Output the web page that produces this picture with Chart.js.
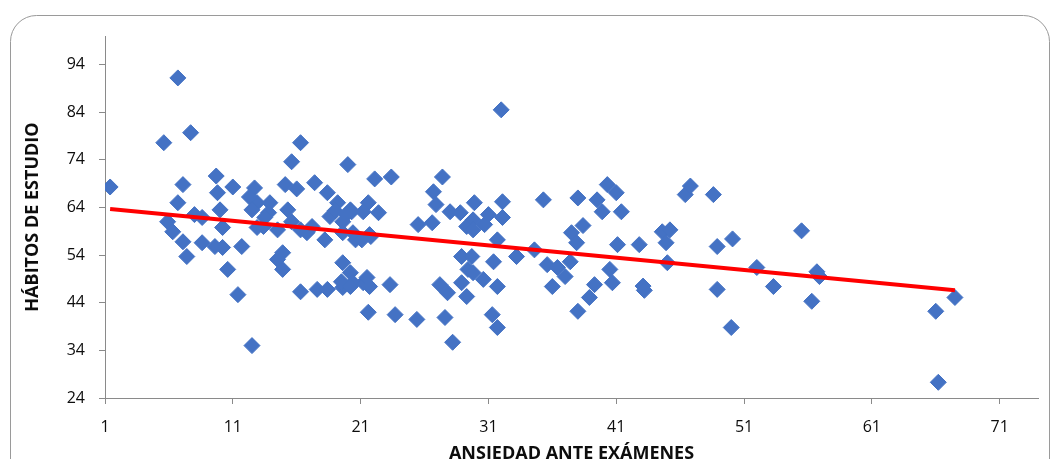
<!DOCTYPE html>
<html>
<head>
<meta charset="utf-8">
<script src="https://cdn.jsdelivr.net/npm/chart.js@4"></script>
<style>
  html, body { margin: 0; padding: 0; background: #fff; }
</style>
</head>
<body>
<canvas id="dispersion" width="1051" height="459"></canvas>
<script>
// valores
const ansiedad = [
  1.4, 5.6, 6.7, 7.7, 7.1, 9.7, 11.0, 9.8, 6.7, 10.0,
  8.0, 8.6, 5.9, 6.3, 10.2, 7.1, 8.6, 9.6, 10.2, 11.7,
  7.4, 10.6, 11.4, 12.5, 12.7, 12.9, 12.3, 13.9, 13.8, 13.4,
  14.5, 12.5, 12.9, 15.3, 16.3, 17.2, 18.2, 18.6, 19.6, 20.4,
  20.2, 21.6, 14.9, 14.5, 14.9, 19.6, 20.2, 20.4, 21.2, 16.3,
  17.6, 18.4, 19.6, 21.6, 15.6, 16.3, 20.0, 15.1, 16.0, 17.4,
  18.4, 19.2, 19.0, 16.8, 20.6, 21.8, 19.5, 20.2, 21.4, 20.3,
  21.2, 19.6, 22.4, 22.1, 23.4, 21.7, 21.1, 21.5, 21.7, 23.3,
  23.7, 25.4, 27.4, 26.7, 26.9, 25.5, 26.6, 28.0, 28.8, 29.3,
  29.9, 28.9, 29.7, 29.4, 27.2, 27.8, 29.3, 28.9, 27.6, 28.2,
  32.1, 31.0, 32.1, 30.7, 29.8, 29.8, 31.7, 33.2, 31.4, 29.8,
  30.6, 31.7, 31.3, 31.7, 32.0, 34.6, 35.3, 38.0, 39.5, 40.3,
  41.0, 39.9, 41.4, 38.4, 37.5, 37.9, 37.4, 35.6, 36.4, 37.0,
  36.0, 38.0, 41.1, 42.8, 40.5, 40.7, 39.3, 38.9, 43.1, 43.2,
  44.6, 45.2, 44.9, 45.0, 46.4, 46.8, 48.6, 48.9, 48.9, 50.1,
  50.0, 52.0, 53.3, 55.5, 56.3, 56.7, 56.9, 66.0, 66.2, 67.5,
  13.5, 15.6, 19.9
];
const habitos = [
  68.3, 77.6, 91.2, 79.7, 68.8, 70.6, 68.3, 67.1, 65.0, 63.5,
  62.5, 61.9, 61.0, 58.9, 59.8, 56.8, 56.6, 55.8, 55.6, 55.8,
  53.7, 51.0, 45.7, 35.0, 68.1, 65.0, 66.2, 65.0, 62.9, 60.0,
  59.3, 63.5, 59.8, 63.5, 59.3, 60.0, 57.2, 62.1, 61.0, 58.7,
  63.5, 65.0, 54.5, 53.1, 51.0, 52.4, 50.3, 48.2, 48.2, 46.3,
  46.8, 46.8, 47.2, 42.0, 73.6, 77.6, 73.0, 68.8, 67.9, 69.2,
  67.1, 65.0, 63.3, 58.7, 57.2, 57.9, 48.4, 47.4, 48.2, 63.1,
  63.1, 58.7, 62.9, 70.0, 70.4, 58.3, 57.2, 49.3, 47.4, 47.8,
  41.5, 40.5, 70.4, 67.3, 64.6, 60.4, 60.8, 63.1, 62.9, 60.0,
  65.0, 53.7, 53.7, 51.0, 47.8, 46.1, 45.3, 48.2, 40.9, 35.7,
  65.2, 62.5, 61.9, 60.4, 61.4, 59.3, 57.2, 53.7, 52.6, 50.3,
  48.9, 47.4, 41.5, 38.8, 84.5, 55.1, 65.6, 66.0, 65.6, 68.8,
  67.1, 63.1, 63.1, 60.2, 58.7, 56.6, 52.6, 52.0, 51.4, 49.5,
  47.4, 42.2, 56.2, 56.2, 51.0, 48.2, 47.8, 45.1, 47.5, 46.6,
  58.9, 59.3, 56.6, 52.4, 66.7, 68.5, 66.7, 55.8, 46.8, 57.4,
  38.8, 51.4, 47.4, 59.1, 44.3, 50.5, 49.5, 42.2, 27.3, 45.1,
  61.9, 61.0, 62.5
];

// línea de tendencia (extremos leídos)
const tendenciaX = [1.4, 67.5];
const tendenciaY = [63.7, 46.6];

const ticksX = [1, 11, 21, 31, 41, 51, 61, 71];
const ticksY = [24, 34, 44, 54, 64, 74, 84, 94];

const gris = '#8a8a8a';
const fuente = "'Open Sans', sans-serif";

// marco redondeado alrededor del gráfico
const marco = {
  id: 'marco',
  beforeDraw(chart) {
    const ctx = chart.ctx;
    ctx.save();
    ctx.fillStyle = '#ffffff';
    ctx.fillRect(0, 0, chart.width, chart.height);
    ctx.strokeStyle = '#9a9a9a';
    ctx.lineWidth = 1;
    ctx.beginPath();
    ctx.roundRect(10.5, 15.5, 1039, 480, 26);
    ctx.stroke();
    ctx.restore();
  }
};

const puntos = ansiedad.map((x, i) => ({ x: x, y: habitos[i] }));
const tendencia = tendenciaX.map((x, i) => ({ x: x, y: tendenciaY[i] }));

new Chart(document.getElementById('dispersion'), {
  type: 'scatter',
  data: {
    datasets: [
      {
        type: 'line',
        label: 'Tendencia',
        data: tendencia,
        borderColor: '#ff0000',
        borderWidth: 4,
        pointRadius: 0,
        fill: false,
        order: 0
      },
      {
        label: 'Estudiantes',
        data: puntos,
        pointStyle: 'rectRot',
        pointRadius: 8,
        backgroundColor: '#4472c4',
        borderColor: '#4472c4',
        borderWidth: 1,
        order: 1
      }
    ]
  },
  options: {
    responsive: false,
    animation: false,
    events: [],
    layout: { padding: { left: 22, top: 36, right: 13, bottom: 0 } },
    plugins: {
      legend: { display: false },
      tooltip: { enabled: false }
    },
    scales: {
      x: {
        type: 'linear',
        min: 1,
        max: 74,
        afterBuildTicks: s => { s.ticks = ticksX.map(v => ({ value: v })); },
        afterFit: s => { s.height = 61; },
        border: { display: true, color: gris, width: 1 },
        grid: { drawOnChartArea: false, drawTicks: true, tickLength: 6, color: gris },
        ticks: { color: '#0d0d0d', padding: 14, maxRotation: 0, autoSkip: false, font: { family: fuente, size: 16 } },
        title: {
          display: true,
          text: 'ANSIEDAD ANTE EXÁMENES',
          color: '#0d0d0d',
          font: { family: fuente, size: 18, weight: 'bold' },
          padding: { top: 0, bottom: -6 }
        }
      },
      y: {
        type: 'linear',
        min: 24,
        max: 100,
        afterBuildTicks: s => { s.ticks = ticksY.map(v => ({ value: v })); },
        afterFit: s => { s.width = 83; },
        border: { display: true, color: gris, width: 1 },
        grid: { drawOnChartArea: false, drawTicks: true, tickLength: 6, color: gris },
        ticks: { color: '#0d0d0d', padding: 14, autoSkip: false, font: { family: fuente, size: 16 } },
        title: {
          display: true,
          text: 'HÁBITOS DE ESTUDIO',
          color: '#0d0d0d',
          font: { family: fuente, size: 18, weight: 'bold' },
          padding: { top: 0, bottom: 0 }
        }
      }
    }
  },
  plugins: [marco]
});
</script>
</body>
</html>
